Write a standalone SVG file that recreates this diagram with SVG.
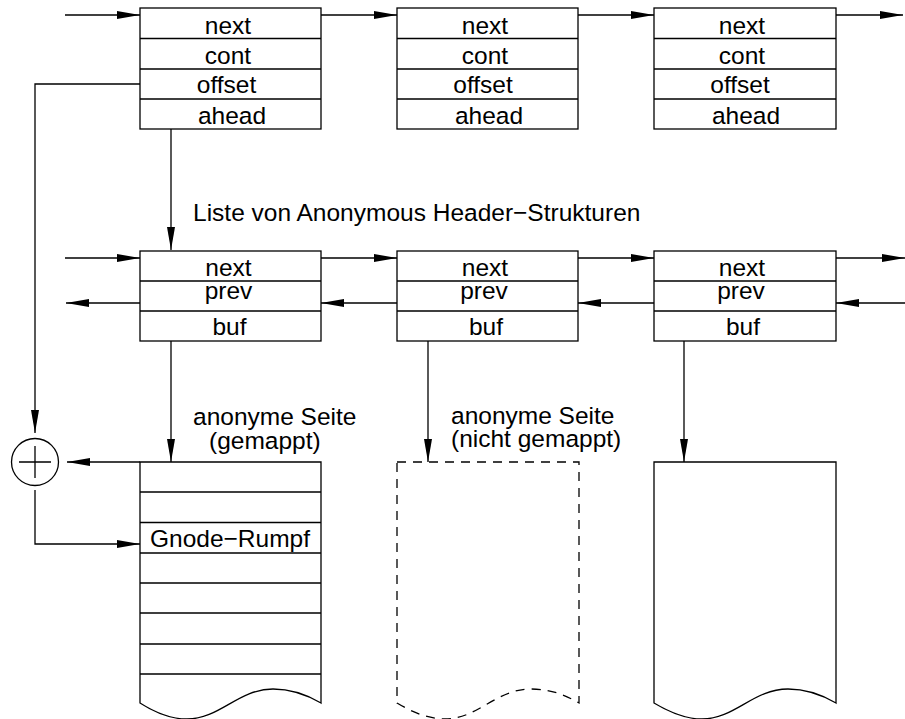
<svg xmlns="http://www.w3.org/2000/svg" width="905" height="719" viewBox="0 0 905 719">
  <style>
    .box { fill: none; stroke: #000; stroke-width: 1.3; }
    .line { fill: none; stroke: #000; stroke-width: 1.3; }
    .dash { fill: none; stroke: #000; stroke-width: 1.3; stroke-dasharray: 9 7; }
    .arrow { fill: none; stroke: #000; stroke-width: 1.3; marker-end: url(#head); }
    text { font-family: "Liberation Sans", Arial, sans-serif; font-size: 24.5px; fill: #000; }
    .c { text-anchor: middle; }
  </style>
  <defs>
    <marker id="head" markerUnits="userSpaceOnUse" markerWidth="24" markerHeight="10" refX="23" refY="4" orient="auto">
      <path d="M0,0 L23,4 L0,8 z" fill="#000"/>
    </marker>
  </defs>

  <!-- header list: next / cont / offset / ahead -->
  <g id="hdr1">
    <rect class="box" x="140" y="8" width="181" height="121"/>
    <path class="line" d="M140,38.5 H321 M140,69 H321 M140,99 H321"/>
    <text class="c" x="228" y="34">next</text>
    <text class="c" x="228" y="64">cont</text>
    <text class="c" x="226.5" y="93">offset</text>
    <text class="c" x="232" y="124">ahead</text>
  </g>
  <g id="hdr2">
    <rect class="box" x="397" y="8" width="181" height="121"/>
    <path class="line" d="M397,38.5 H578 M397,69 H578 M397,99 H578"/>
    <text class="c" x="485" y="34">next</text>
    <text class="c" x="485" y="64">cont</text>
    <text class="c" x="483" y="93">offset</text>
    <text class="c" x="489" y="124">ahead</text>
  </g>
  <g id="hdr3">
    <rect class="box" x="654" y="8" width="182" height="121"/>
    <path class="line" d="M654,38.5 H836 M654,69 H836 M654,99 H836"/>
    <text class="c" x="742" y="34">next</text>
    <text class="c" x="742" y="64">cont</text>
    <text class="c" x="740" y="93">offset</text>
    <text class="c" x="746" y="124">ahead</text>
  </g>

  <!-- anonymous header list: next / prev / buf -->
  <g id="anon1">
    <rect class="box" x="140" y="251" width="181" height="90"/>
    <path class="line" d="M140,281 H321 M140,311 H321"/>
    <text class="c" x="228.5" y="276">next</text>
    <text class="c" x="228.5" y="299">prev</text>
    <text class="c" x="229.5" y="335">buf</text>
  </g>
  <g id="anon2">
    <rect class="box" x="397" y="251" width="181" height="90"/>
    <path class="line" d="M397,281 H578 M397,311 H578"/>
    <text class="c" x="485" y="276">next</text>
    <text class="c" x="484" y="299">prev</text>
    <text class="c" x="486" y="335">buf</text>
  </g>
  <g id="anon3">
    <rect class="box" x="654" y="251" width="182" height="90"/>
    <path class="line" d="M654,281 H836 M654,311 H836"/>
    <text class="c" x="742" y="276">next</text>
    <text class="c" x="741" y="299">prev</text>
    <text class="c" x="743" y="335">buf</text>
  </g>

  <g id="list-label">
    <text x="193" y="221">Liste von Anonymous Header−Strukturen</text>
  </g>

  <!-- pages -->
  <g id="page1">
    <path class="line" d="M140,462 H321 V703 C309,696 294,689 273,689 C238,689 220,719 187,719 C170,719 154,712 140,703 Z"/>
    <path class="line" d="M140,492 H321 M140,522.5 H321 M140,553 H321 M140,583 H321 M140,613 H321 M140,644 H321 M140,674 H321"/>
    <text class="c" x="230" y="547">Gnode−Rumpf</text>
    <text x="193" y="425">anonyme Seite</text>
    <text x="209" y="449">(gemappt)</text>
  </g>
  <g id="page2">
    <path class="dash" d="M397,462 H579 V703 C567,696 552,689 531,689 C496,689 478,719 445,719 C428,719 412,712 397,703 Z"/>
    <text x="451" y="424">anonyme Seite</text>
    <text x="451" y="447">(nicht gemappt)</text>
  </g>
  <g id="page3">
    <path class="line" d="M654,462 H836 V703 C824,696 809,689 788,689 C753,689 735,719 702,719 C685,719 669,712 654,703 Z"/>
  </g>

  <g id="adder">
    <circle class="line" cx="35" cy="462" r="23.5"/>
    <path class="line" d="M19,462 H51 M35,446 V478"/>
  </g>

  <g id="connectors">
    <!-- header chain -->
    <path class="arrow" d="M65,15 H140"/>
    <path class="arrow" d="M321,15 H397"/>
    <path class="arrow" d="M578,15 H654"/>
    <path class="arrow" d="M836,15 H903"/>
    <!-- ahead -> anonymous list -->
    <path class="arrow" d="M171,129 V250"/>
    <!-- next chain -->
    <path class="arrow" d="M65,258 H140"/>
    <path class="arrow" d="M321,258 H397"/>
    <path class="arrow" d="M578,258 H654"/>
    <path class="arrow" d="M836,258 H905"/>
    <!-- prev chain -->
    <path class="arrow" d="M140,303 H66"/>
    <path class="arrow" d="M397,303 H321"/>
    <path class="arrow" d="M654,303 H578"/>
    <path class="arrow" d="M905,303 H836"/>
    <!-- buf -> pages -->
    <path class="arrow" d="M171,341 V462"/>
    <path class="arrow" d="M428,341 V462"/>
    <path class="arrow" d="M684,341 V462"/>
    <!-- offset + page start -> Gnode body -->
    <path class="arrow" d="M140,84 H35 V433"/>
    <path class="arrow" d="M140,462 H67"/>
    <path class="arrow" d="M35,490 V544 H140"/>
  </g>
</svg>
